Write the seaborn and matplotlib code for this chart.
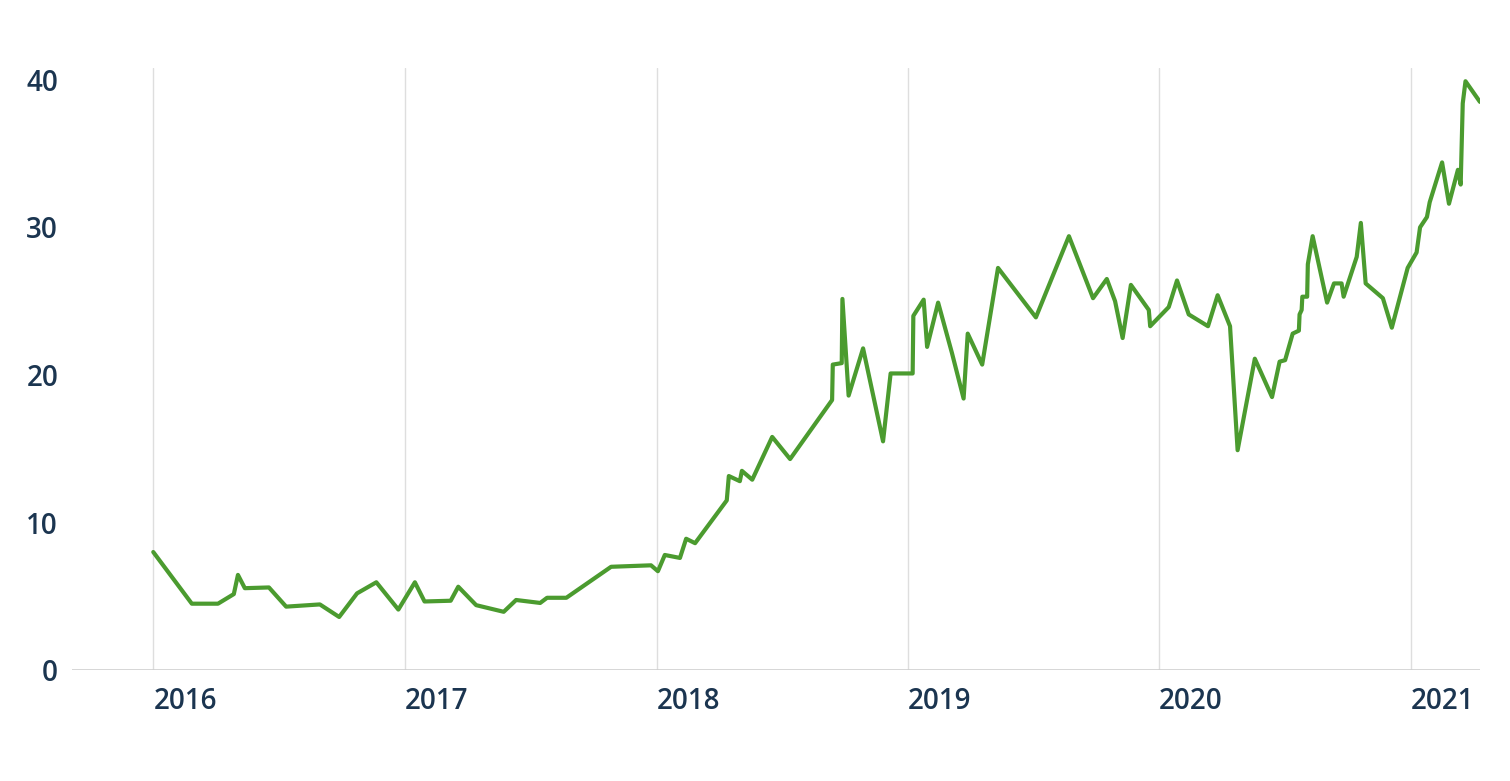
import matplotlib
matplotlib.use("Agg")
import matplotlib.pyplot as plt
import matplotlib.dates as mdates
import seaborn as sns
import pandas as pd

dates = [
    "2016-01-01", "2016-02-26", "2016-04-04", "2016-04-27", "2016-05-03", "2016-05-13",
    "2016-06-17", "2016-07-12", "2016-08-30", "2016-09-27", "2016-10-23", "2016-11-20",
    "2016-12-22", "2017-01-15", "2017-01-29", "2017-03-08", "2017-03-19", "2017-04-14",
    "2017-05-24", "2017-06-11", "2017-07-16", "2017-07-26", "2017-08-23", "2017-10-27",
    "2017-12-24", "2018-01-03", "2018-01-13", "2018-02-04", "2018-02-13", "2018-02-26",
    "2018-04-13", "2018-04-16", "2018-05-02", "2018-05-05", "2018-05-20", "2018-06-18",
    "2018-07-14", "2018-09-13", "2018-09-14", "2018-09-27", "2018-09-28", "2018-10-07",
    "2018-10-28", "2018-11-26", "2018-12-07", "2019-01-08", "2019-01-09", "2019-01-24",
    "2019-01-29", "2019-02-14", "2019-03-06", "2019-03-23", "2019-03-29", "2019-04-19",
    "2019-05-12", "2019-07-06", "2019-08-23", "2019-09-27", "2019-10-17", "2019-10-29",
    "2019-11-09", "2019-11-21", "2019-12-17", "2019-12-19", "2020-01-15", "2020-01-27",
    "2020-02-13", "2020-03-12", "2020-03-26", "2020-04-13", "2020-04-24", "2020-05-19",
    "2020-06-13", "2020-06-24", "2020-07-02", "2020-07-13", "2020-07-22", "2020-07-23",
    "2020-07-26", "2020-07-27", "2020-08-03", "2020-08-04", "2020-08-11", "2020-09-01",
    "2020-09-11", "2020-09-22", "2020-09-25", "2020-10-14", "2020-10-20", "2020-10-27",
    "2020-11-21", "2020-12-04", "2020-12-27", "2021-01-09", "2021-01-14", "2021-01-24",
    "2021-01-28", "2021-02-15", "2021-02-25", "2021-03-10", "2021-03-14", "2021-03-17",
    "2021-03-21", "2021-04-11",
]
values = [
    8.0, 4.5, 4.5, 5.15, 6.45, 5.55,
    5.6, 4.3, 4.45, 3.6, 5.2, 5.95,
    4.1, 5.95, 4.65, 4.7, 5.65, 4.4,
    3.95, 4.75, 4.55, 4.9, 4.9, 7.0,
    7.1, 6.7, 7.8, 7.6, 8.9, 8.6,
    11.5, 13.15, 12.8, 13.5, 12.9, 15.8,
    14.3, 18.3, 20.7, 20.8, 25.15, 18.6,
    21.8, 15.5, 20.1, 20.1, 24.0, 25.1,
    21.9, 24.9, 21.5, 18.4, 22.8, 20.7,
    27.25, 23.9, 29.4, 25.2, 26.5, 25.0,
    22.5, 26.1, 24.4, 23.3, 24.6, 26.4,
    24.1, 23.3, 25.4, 23.3, 14.9, 21.1,
    18.5, 20.9, 21.0, 22.8, 23.0, 24.1,
    24.4, 25.3, 25.3, 27.5, 29.4, 24.9,
    26.2, 26.2, 25.3, 28.0, 30.3, 26.2,
    25.2, 23.2, 27.25, 28.3, 30.0, 30.7,
    31.7, 34.4, 31.6, 33.9, 32.9, 38.4,
    39.9, 38.5,
]
year_ticks = ["2016-01-01", "2017-01-01", "2018-01-01", "2019-01-01", "2020-01-01", "2021-01-01"]
year_labels = ["2016", "2017", "2018", "2019", "2020", "2021"]
y_ticks = [0, 10, 20, 30, 40]

df = pd.DataFrame({"date": pd.to_datetime(dates), "value": values})

sns.set_theme(style="white")
plt.rcParams["font.family"] = ["Open Sans", "DejaVu Sans"]

fig = plt.figure(figsize=(15.10, 7.81), dpi=100)
ax = fig.add_axes([0.0477, 0.142, 0.9324, 0.771])

sns.lineplot(data=df, x="date", y="value", ax=ax, color="#4b9b2f", linewidth=3.0)

ax.set_xlim(pd.Timestamp("2015-09-05"), pd.Timestamp("2021-04-11"))
ax.set_ylim(0, 40.8)

xt = pd.to_datetime(year_ticks)
ax.set_xticks(xt)
ax.set_xticklabels(year_labels)
ax.set_yticks(y_ticks)
ax.set_yticklabels([str(v) for v in y_ticks])

for t in xt:
    ax.axvline(t, color="#dedede", linewidth=1.0, zorder=0)
ax.axhline(0, color="#cfcfcf", linewidth=1.2, zorder=1)

for s in ax.spines.values():
    s.set_visible(False)

ax.tick_params(axis="both", length=0, labelsize=20, labelcolor="#1b3550")
ax.tick_params(axis="x", pad=12)
ax.tick_params(axis="y", pad=10)
for lab in ax.get_xticklabels():
    lab.set_horizontalalignment("left")
    lab.set_fontweight("semibold")
for lab in ax.get_yticklabels():
    lab.set_fontweight("semibold")

ax.set_xlabel("")
ax.set_ylabel("")
ax.grid(False)

fig.savefig("out.png", dpi=100, facecolor="white")
